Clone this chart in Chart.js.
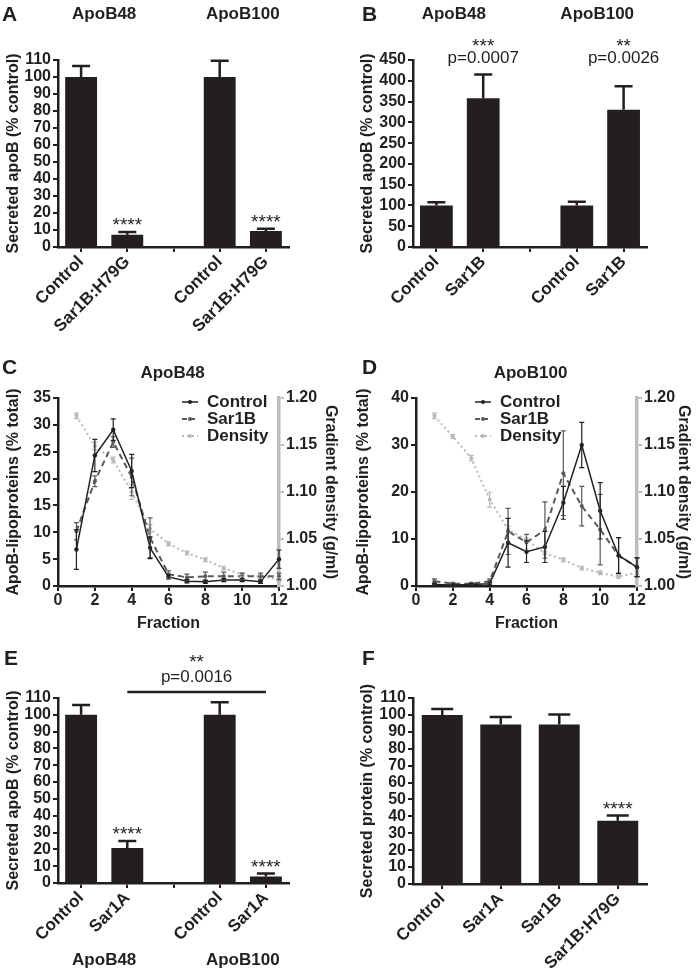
<!DOCTYPE html>
<html>
<head>
<meta charset="utf-8">
<script src="https://cdn.jsdelivr.net/npm/chart.js@4.4.1/dist/chart.umd.min.js"></script>
<style>
    html, body { margin: 0; padding: 0; background: #fff; }
    #page { position: relative; width: 700px; height: 976px; overflow: hidden; background: #fff; }
    #page canvas { position: absolute; }
</style>
</head>
<body>
<div id="page">
    <canvas id="chartA" width="350" height="340" style="left:0px;top:0px"></canvas>
    <canvas id="chartB" width="350" height="340" style="left:350px;top:0px"></canvas>
    <canvas id="chartC" width="350" height="330" style="left:0px;top:320px"></canvas>
    <canvas id="chartD" width="350" height="330" style="left:350px;top:320px"></canvas>
    <canvas id="chartE" width="350" height="336" style="left:0px;top:640px"></canvas>
    <canvas id="chartF" width="350" height="336" style="left:350px;top:640px"></canvas>
</div>
<script>
// ---- data ----
const groups = ['ApoB48', 'ApoB100'];

// A: dominant-negative Sar1B
const catsA = ['Control', 'Sar1B:H79G', '', 'Control', 'Sar1B:H79G'];
const secretedA = [100, 7.2, null, 100, 9.4];
const semA = [6.5, 1.6, null, 9.6, 1.3];
const starsA = ['', '****', '', '', '****'];

// B: Sar1B overexpression
const catsB = ['Control', 'Sar1B', '', 'Control', 'Sar1B'];
const secretedB = [100, 358, null, 100, 330];
const semB = [7.5, 57, null, 9, 57];
const starsB = ['', '***', '', '', '**'];
const pValuesB = ['', 'p=0.0007', '', '', 'p=0.0026'];

// C / D: density gradient fractions
const fractions = [1, 2, 3, 4, 5, 6, 7, 8, 9, 10, 11, 12];
const seriesNames = ['Control', 'Sar1B', 'Density'];

const controlC = [6.8, 24.3, 29.1, 21.4, 7.1, 1.7, 0.9, 0.8, 1.1, 1.1, 0.8, 5.0];
const controlCErr = [3.7, 3.0, 2.0, 3.1, 2.0, 0.4, 0.3, 0.3, 0.3, 0.3, 0.3, 1.7];
const sar1bC = [10.2, 19.5, 26.8, 20.3, 9.0, 2.2, 1.6, 1.8, 1.8, 1.8, 1.8, 1.8];
const sar1bCErr = [1.6, 1.0, 1.0, 3.5, 3.7, 0.6, 0.6, 0.8, 0.8, 0.6, 0.6, 0.6];
const densityC = [1.181, 1.149, 1.134, 1.100, 1.061, 1.045, 1.035, 1.028, 1.019, 1.012, 1.010, 1.007];
const densityCErr = [0.003, 0.004, 0.003, 0.008, 0.004, 0.002, 0.002, 0.002, 0.002, 0.002, 0.002, 0.002];

const controlD = [0.3, 0.2, 0.3, 0.5, 9.2, 7.3, 8.3, 17.7, 30.0, 16.0, 6.5, 4.0];
const controlDErr = [0.3, 0.2, 0.2, 0.3, 5.2, 2.3, 3.3, 3.5, 4.8, 6.0, 3.8, 2.0];
const sar1bD = [1.0, 0.5, 0.5, 1.0, 11.6, 9.3, 11.9, 24.0, 17.0, 12.0, 6.5, 4.0];
const sar1bDErr = [0.5, 0.3, 0.3, 0.5, 4.9, 1.7, 6.0, 9.0, 4.2, 7.5, 3.8, 2.0];
const densityD = [1.181, 1.159, 1.136, 1.092, 1.060, 1.049, 1.035, 1.028, 1.019, 1.014, 1.010, 1.014];
const densityDErr = [0.003, 0.002, 0.003, 0.008, 0.004, 0.002, 0.002, 0.002, 0.002, 0.002, 0.002, 0.002];

// E: Sar1A overexpression
const catsE = ['Control', 'Sar1A', '', 'Control', 'Sar1A'];
const secretedE = [100, 20.8, null, 100, 3.9];
const semE = [5.8, 4.1, null, 7.5, 1.7];
const starsE = ['', '****', '', '', '****'];
const pValueE = 'p=0.0016';
const starsBracketE = '**';

// F: total secreted protein
const catsF = ['Control', 'Sar1A', 'Sar1B', 'Sar1B:H79G'];
const secretedF = [100, 94.4, 94.4, 37.4];
const semF = [3.5, 4.3, 5.9, 3.1];
const starsF = ['', '', '', '****'];

// ---- styling ----
const INK = '#231f20';
const MID_GREY = '#5a5a5a';
const LIGHT_GREY = '#b9b9b9';
const FAMILY = "'Liberation Sans', Arial, Helvetica, sans-serif";

Chart.defaults.font.family = FAMILY;
Chart.defaults.color = INK;

const tickFont = { family: FAMILY, size: 16, weight: 'bold' };
const catFont = { family: FAMILY, size: 17, weight: 'bold' };
const axisFont = { family: FAMILY, size: 16, weight: 'bold' };
const STAR_FONT = '19px ' + FAMILY;

function drawText(ctx, str, x, y, font, align, baseline, color) {
    ctx.save();
    ctx.font = font;
    ctx.fillStyle = color || INK;
    ctx.textAlign = align || 'center';
    ctx.textBaseline = baseline || 'middle';
    ctx.fillText(str, x, y);
    ctx.restore();
}

// Draw SEM whiskers for one dataset (bars: upward only, lines: both ways)
function errorBars(sets) {
    return {
        id: 'errorBars',
        afterDatasetsDraw(chart) {
            const ctx = chart.ctx;
            sets.forEach(set => {
                const meta = chart.getDatasetMeta(set.dataset);
                const yScale = chart.scales[meta.yAxisID];
                ctx.save();
                ctx.strokeStyle = set.color;
                ctx.lineWidth = set.width;
                meta.data.forEach((el, i) => {
                    const v = set.values[i];
                    const e = set.err[i];
                    if (v == null || e == null) return;
                    const top = yScale.getPixelForValue(v + e);
                    const bottom = set.both ? yScale.getPixelForValue(v - e) : el.y;
                    const half = set.cap / 2;
                    ctx.beginPath();
                    ctx.moveTo(el.x, bottom);
                    ctx.lineTo(el.x, top);
                    ctx.moveTo(el.x - half, top);
                    ctx.lineTo(el.x + half, top);
                    if (set.both) {
                        ctx.moveTo(el.x - half, bottom);
                        ctx.lineTo(el.x + half, bottom);
                    }
                    ctx.stroke();
                });
                ctx.restore();
            });
        }
    };
}

function axisLook(color, borderWidth) {
    return {
        grid: { display: true, drawOnChartArea: false, offset: false, color: color, lineWidth: 2, tickLength: 5 },
        border: { display: true, color: color, width: borderWidth }
    };
}

// frame: plot edges inside the canvas
function barPanel(id, cats, values, errs, frame, yMax, yStep, yTitle, titlePad, decorate) {
    const ctx = document.getElementById(id).getContext('2d');
    return new Chart(ctx, {
        type: 'bar',
        data: {
            labels: cats,
            datasets: [{
                data: values,
                backgroundColor: INK,
                borderWidth: 0,
                barPercentage: frame.barPct,
                categoryPercentage: 1
            }]
        },
        options: {
            responsive: false,
            animation: false,
            layout: { padding: { top: frame.top, right: frame.right, left: 0, bottom: 0 } },
            plugins: { legend: { display: false }, tooltip: { enabled: false } },
            scales: {
                x: {
                    ...axisLook(INK, 2.5),
                    ticks: { color: INK, font: catFont, minRotation: 45, maxRotation: 45, padding: 0, autoSkip: false },
                    afterFit: s => { s.height = frame.xHeight; }
                },
                y: {
                    min: 0,
                    max: yMax,
                    ...axisLook(INK, 2.5),
                    ticks: { stepSize: yStep, color: INK, font: tickFont, padding: 2, autoSkip: false },
                    title: { display: true, text: yTitle, color: INK, font: axisFont, padding: { top: titlePad, bottom: 0 } },
                    afterFit: s => { s.width = frame.yWidth; }
                }
            }
        },
        plugins: [
            errorBars([{ dataset: 0, values: values, err: errs, cap: frame.cap, width: 2.5, color: INK, both: false }]),
            decorate
        ]
    });
}

function starsAbove(chart, stars, values, errs) {
    const { ctx, scales: { x, y } } = chart;
    stars.forEach((s, i) => {
        if (!s) return;
        drawText(ctx, s, x.getPixelForValue(i), y.getPixelForValue(values[i] + errs[i]) - 1,
            STAR_FONT, 'center', 'alphabetic');
    });
}

function groupCentre(x, a, b) {
    return (x.getPixelForValue(a) + x.getPixelForValue(b)) / 2;
}

// Panel A
barPanel('chartA', catsA, secretedA, semA,
    { top: 60, right: 61, yWidth: 58, xHeight: 93, barPct: 0.69, cap: 18 },
    110, 10, 'Secreted apoB (% control)', 4,
    {
        id: 'decorA',
        afterDraw(chart) {
            const { ctx, scales: { x } } = chart;
            drawText(ctx, 'A', 2, 21, 'bold 21px ' + FAMILY, 'left', 'alphabetic');
            drawText(ctx, groups[0], groupCentre(x, 0, 1), 14, 'bold 17px ' + FAMILY);
            drawText(ctx, groups[1], groupCentre(x, 3, 4), 14, 'bold 17px ' + FAMILY);
            starsAbove(chart, starsA, secretedA, semA);
        }
    });

// Panel B
barPanel('chartB', catsB, secretedB, semB,
    { top: 60, right: 53, yWidth: 63, xHeight: 93, barPct: 0.7, cap: 18 },
    450, 50, 'Secreted apoB (% control)', 8,
    {
        id: 'decorB',
        afterDraw(chart) {
            const { ctx, scales: { x } } = chart;
            drawText(ctx, 'B', 12, 21, 'bold 21px ' + FAMILY, 'left', 'alphabetic');
            drawText(ctx, groups[0], groupCentre(x, 0, 1) - 6, 14, 'bold 17px ' + FAMILY);
            drawText(ctx, groups[1], groupCentre(x, 3, 4) - 3, 14, 'bold 17px ' + FAMILY);
            starsB.forEach((s, i) => {
                if (!s) return;
                drawText(ctx, s, x.getPixelForValue(i), 52, STAR_FONT, 'center', 'alphabetic');
                drawText(ctx, pValuesB[i], x.getPixelForValue(i), 58, '17px ' + FAMILY);
            });
        }
    });

// Panels C / D
function fractionPanel(id, frame, yMax, yStep, ctrl, ctrlErr, sar, sarErr, dens, densErr, letter, title, legendX, padL, padR) {
    const ctx = document.getElementById(id).getContext('2d');
    const pts = arr => fractions.map((f, i) => ({ x: f, y: arr[i] }));
    return new Chart(ctx, {
        type: 'line',
        data: {
            datasets: [
                {
                    label: seriesNames[0], data: pts(ctrl), yAxisID: 'y',
                    borderColor: INK, borderWidth: 1.5, pointRadius: 2.2,
                    pointBackgroundColor: INK, pointBorderWidth: 0, tension: 0, clip: false
                },
                {
                    label: seriesNames[1], data: pts(sar), yAxisID: 'y',
                    borderColor: MID_GREY, borderWidth: 2, borderDash: [6, 4], pointRadius: 2,
                    pointBackgroundColor: MID_GREY, pointBorderWidth: 0, tension: 0, clip: false
                },
                {
                    label: seriesNames[2], data: pts(dens), yAxisID: 'y2',
                    borderColor: LIGHT_GREY, borderWidth: 2, borderDash: [2, 3], pointRadius: 2,
                    pointBackgroundColor: LIGHT_GREY, pointBorderWidth: 0, tension: 0, clip: false
                }
            ]
        },
        options: {
            responsive: false,
            animation: false,
            layout: { padding: { top: frame.top, right: 0, left: 0, bottom: 0 } },
            plugins: { legend: { display: false }, tooltip: { enabled: false } },
            scales: {
                x: {
                    type: 'linear', min: 0, max: 12,
                    ...axisLook(INK, 2.5),
                    ticks: { stepSize: 2, color: INK, font: tickFont, padding: 0, maxRotation: 0 },
                    title: { display: true, text: 'Fraction', color: INK, font: axisFont, padding: { top: 0, bottom: 17 } },
                    afterFit: s => { s.height = frame.xHeight; }
                },
                y: {
                    position: 'left', min: 0, max: yMax,
                    ...axisLook(INK, 2.5),
                    ticks: { stepSize: yStep, color: INK, font: tickFont, padding: 2, autoSkip: false },
                    title: { display: true, text: 'ApoB-lipoproteins (% total)', color: INK, font: axisFont, padding: { top: padL, bottom: 0 } },
                    afterFit: s => { s.width = frame.yWidth; }
                },
                y2: {
                    position: 'right', min: 1.0, max: 1.2,
                    ...axisLook('#bdbdbd', 3.5),
                    ticks: { stepSize: 0.05, color: INK, font: tickFont, padding: 2, autoSkip: false, callback: v => Number(v).toFixed(2) },
                    title: { display: true, text: 'Gradient density (g/ml)', color: INK, font: axisFont, padding: { top: padR, bottom: 0 } },
                    afterFit: s => { s.width = frame.y2Width; }
                }
            }
        },
        plugins: [
            errorBars([
                { dataset: 2, values: dens, err: densErr, cap: 5, width: 1.2, color: LIGHT_GREY, both: true },
                { dataset: 1, values: sar, err: sarErr, cap: 5, width: 1.2, color: MID_GREY, both: true },
                { dataset: 0, values: ctrl, err: ctrlErr, cap: 5, width: 1.2, color: INK, both: true }
            ]),
            {
                id: 'decor' + letter,
                afterDraw(chart) {
                    const c = chart.ctx;
                    const area = chart.chartArea;
                    drawText(c, letter, letter === 'C' ? 2 : 12, 54, 'bold 21px ' + FAMILY, 'left', 'alphabetic');
                    drawText(c, title, (area.left + area.right) / 2 + 4, 53, 'bold 17px ' + FAMILY);
                    const styles = [
                        { color: INK, dash: [], width: 1.5 },
                        { color: MID_GREY, dash: [5, 3], width: 2 },
                        { color: LIGHT_GREY, dash: [2, 3], width: 2 }
                    ];
                    seriesNames.forEach((name, i) => {
                        const yy = 82 + i * 17;
                        c.save();
                        c.strokeStyle = styles[i].color;
                        c.lineWidth = styles[i].width;
                        c.setLineDash(styles[i].dash);
                        c.beginPath();
                        c.moveTo(legendX, yy);
                        c.lineTo(legendX + 16, yy);
                        c.stroke();
                        c.setLineDash([]);
                        c.fillStyle = styles[i].color;
                        c.beginPath();
                        c.arc(legendX + 8, yy, 2, 0, Math.PI * 2);
                        c.fill();
                        c.restore();
                        drawText(c, name, legendX + 25, yy, 'bold 17px ' + FAMILY, 'left');
                    });
                }
            }
        ]
    });
}

fractionPanel('chartC', { top: 78, yWidth: 58, y2Width: 71, xHeight: 64 }, 35, 5,
    controlC, controlCErr, sar1bC, sar1bCErr, densityC, densityCErr, 'C', groups[0], 182, 4, 10);
fractionPanel('chartD', { top: 78, yWidth: 66, y2Width: 63, xHeight: 64 }, 40, 10,
    controlD, controlDErr, sar1bD, sar1bDErr, densityD, densityDErr, 'D', groups[1], 125, 4, 7);

// Panel E
barPanel('chartE', catsE, secretedE, semE,
    { top: 58, right: 61, yWidth: 58, xHeight: 93, barPct: 0.69, cap: 18 },
    110, 10, 'Secreted apoB (% control)', 4,
    {
        id: 'decorE',
        afterDraw(chart) {
            const { ctx, scales: { x }, chartArea } = chart;
            drawText(ctx, 'E', 4, 25, 'bold 21px ' + FAMILY, 'left', 'alphabetic');
            starsAbove(chart, starsE, secretedE, semE);
            // bracket between the two Sar1A bars
            const x1 = x.getPixelForValue(1);
            const x2 = x.getPixelForValue(4);
            const yb = chartArea.top - 6;
            ctx.save();
            ctx.strokeStyle = INK;
            ctx.lineWidth = 2.5;
            ctx.beginPath();
            ctx.moveTo(x1, yb);
            ctx.lineTo(x2, yb);
            ctx.stroke();
            ctx.restore();
            drawText(ctx, starsBracketE, (x1 + x2) / 2, 28, STAR_FONT, 'center', 'alphabetic');
            drawText(ctx, pValueE, (x1 + x2) / 2, 37, '17px ' + FAMILY);
            drawText(ctx, groups[0], groupCentre(x, 0, 1), 320, 'bold 17px ' + FAMILY);
            drawText(ctx, groups[1], groupCentre(x, 3, 4), 320, 'bold 17px ' + FAMILY);
        }
    });

// Panel F
barPanel('chartF', catsF, secretedF, semF,
    { top: 58, right: 53, yWidth: 63, xHeight: 92, barPct: 0.7, cap: 22 },
    110, 10, 'Secreted protein (% control)', 8,
    {
        id: 'decorF',
        afterDraw(chart) {
            drawText(chart.ctx, 'F', 12, 25, 'bold 21px ' + FAMILY, 'left', 'alphabetic');
            starsAbove(chart, starsF, secretedF, semF);
        }
    });
</script>
</body>
</html>
